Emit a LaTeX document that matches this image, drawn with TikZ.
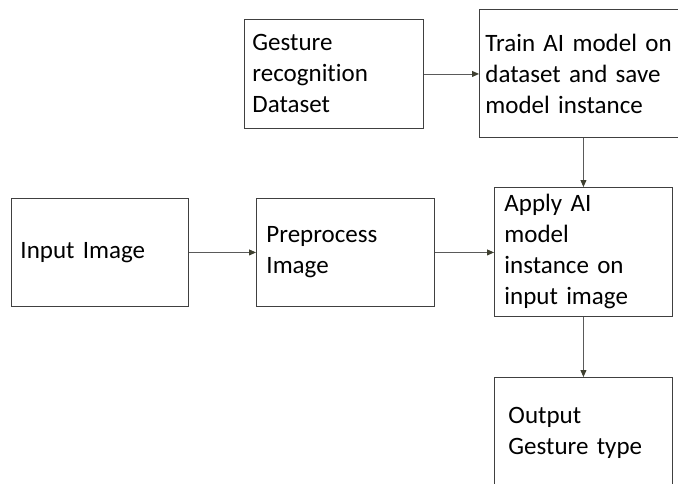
\documentclass[tikz,border=0pt]{standalone}
\usepackage{fontspec}
\setmainfont{Carlito}[Ligatures={NoCommon}]
\usetikzlibrary{arrows.meta}
\definecolor{boxline}{HTML}{404040}
\definecolor{arrline}{HTML}{5A5A5A}
\definecolor{tipcol}{HTML}{3F4030}
\begin{document}
\begin{tikzpicture}[x=1pt,y=-1pt,
  box/.style={draw=boxline, line width=0.9pt, rectangle, align=left,
    inner ysep=0pt, font=\fontsize{25}{31}\selectfont, anchor=north west},
  conn/.style={draw=arrline, line width=0.9pt,
    -{Triangle[length=7pt,width=6pt,fill=tipcol,color=tipcol]}}]
\useasboundingbox (0,0) rectangle (678,483);
\fill[white] (0,0) rectangle (678,483);
\clip (0,0) rectangle (678,483);

\node[box, inner xsep=8pt, text width=163pt, minimum width=179pt, minimum height=109pt]
  (gest) at (244,19) {Gesture\\recognition\\Dataset};
\node[box, inner xsep=6pt, text width=196pt, minimum width=208pt, minimum height=128pt]
  (train) at (479,9) {Train AI model on\\dataset and save\\model instance};
\node[box, inner xsep=9pt, text width=159pt, minimum width=177pt, minimum height=108pt]
  (inp) at (11,198) {Input Image};
\node[box, inner xsep=10pt, text width=158pt, minimum width=178pt, minimum height=108pt]
  (pre) at (256,198) {Preprocess\\Image};
\node[box, inner xsep=10pt, text width=158pt, minimum width=178pt, minimum height=129pt]
  (apply) at (494,187) {Apply AI\\model\\instance on\\input image};
\node[box, inner xsep=14pt, text width=150pt, minimum width=178pt, minimum height=110pt]
  (out) at (494,377) {Output\\Gesture type};

\draw[conn] (gest.east) -- (gest.east -| train.west);
\draw[conn] (train.south -| apply.north) -- (apply.north);
\draw[conn] (inp.east) -- (pre.west);
\draw[conn] (pre.east) -- (pre.east -| apply.west);
\draw[conn] (apply.south) -- (out.north);
\end{tikzpicture}
\end{document}
